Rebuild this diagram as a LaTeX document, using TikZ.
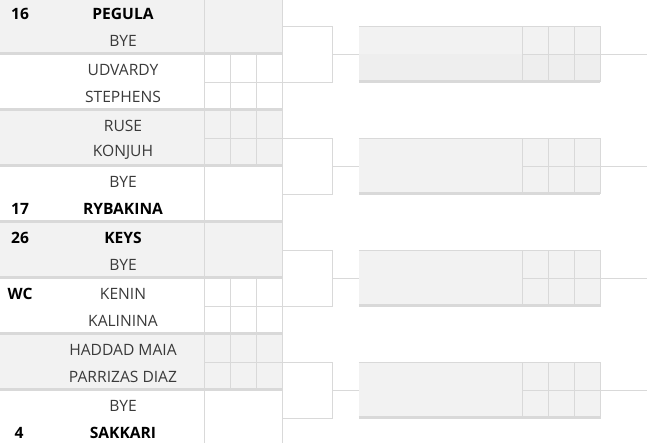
\documentclass[tikz,border=0pt]{standalone}
\usepackage{fontspec}
\setmainfont{Open Sans}
\usetikzlibrary{calc}
\definecolor{cellgray}{HTML}{F2F2F2}
\definecolor{cellgraydk}{HTML}{EEEEEE}
\definecolor{rulegray}{HTML}{D9D9D9}
\definecolor{namegray}{HTML}{3A3A3A}
\tikzset{
    cellrule/.style={draw=rulegray, line width=1pt},
    seprule/.style={draw=rulegray, line width=2.6pt},
    plain/.style={text=namegray, inner sep=0pt, font=\fontsize{15.6}{17}\selectfont},
    strong/.style={text=black, inner sep=0pt, font=\fontsize{15.6}{17}\selectfont\bfseries},
    slot/.style={fill=cellgray, inner sep=0pt, minimum width=241pt, minimum height=56pt},
}

\begin{document}
\begin{tikzpicture}[x=1pt,y=-1pt]
    \useasboundingbox (0,0) rectangle (647,443);

    % first round, shaded matches
    \fill[cellgray] (0,-2) rectangle (282,52);
    \fill[cellgray] (0,110) rectangle (282,164);
    \fill[cellgray] (0,222) rectangle (282,276);
    \fill[cellgray] (0,334) rectangle (282,388);

    % score cells
    \draw[cellrule] (204,-2) -- (204,443) (282,-2) -- (282,443);
    \draw[cellrule] (230,54) -- (230,166) (256,54) -- (256,166);
    \draw[cellrule] (230,278) -- (230,390) (256,278) -- (256,390);
    \draw[cellrule] (204,82.3) -- (282,82.3) (204,138.3) -- (282,138.3);
    \draw[cellrule] (204,306.3) -- (282,306.3) (204,362.3) -- (282,362.3);
    \foreach \y in {53.3,109.3,165.3,221.3,277.3,333.3,389.3}
        \draw[seprule] (0,\y) -- (282,\y);

    % players
    \node[strong] (s16) at (20,13.5) {16};
    \node[strong] (pegula) at (123,13.5) {PEGULA};
    \node[plain] (bye1) at (123,40.5) {BYE};
    \node[plain] (udvardy) at (123,69.5) {UDVARDY};
    \node[plain] (stephens) at (123,96.5) {STEPHENS};
    \node[plain] (ruse) at (123,125.5) {RUSE};
    \node[plain] (konjuh) at (123,152.5) {KONJUH};
    \node[plain] (bye2) at (123,181.5) {BYE};
    \node[strong] (s17) at (20,208.5) {17};
    \node[strong] (rybakina) at (123,208.5) {RYBAKINA};
    \node[strong] (s26) at (20,237.5) {26};
    \node[strong] (keys) at (123,237.5) {KEYS};
    \node[plain] (bye3) at (123,264.5) {BYE};
    \node[strong] (wc) at (20,293.5) {WC};
    \node[plain] (kenin) at (123,293.5) {KENIN};
    \node[plain] (kalinina) at (123,320.5) {KALININA};
    \node[plain] (haddad) at (123,349.5) {HADDAD MAIA};
    \node[plain] (parrizas) at (123,376.5) {PARRIZAS DIAZ};
    \node[plain] (bye4) at (123,405.5) {BYE};
    \node[strong] (s4) at (19,432.5) {4};
    \node[strong] (sakkari) at (123,432.5) {SAKKARI};

    % match outlets
    \coordinate (w1) at (282,26.3);
    \coordinate (w2) at (282,82.3);
    \coordinate (w3) at (282,138.3);
    \coordinate (w4) at (282,194.3);
    \coordinate (w5) at (282,250.3);
    \coordinate (w6) at (282,306.3);
    \coordinate (w7) at (282,362.3);
    \coordinate (w8) at (282,418.3);
    \coordinate (j1) at (332,54.3);
    \coordinate (j2) at (332,166.3);
    \coordinate (j3) at (332,278.3);
    \coordinate (j4) at (332,390.3);

    % second round
    \node[slot] (r1) at (479.5,54.3) {};
    \node[slot] (r2) at (479.5,166.3) {};
    \node[slot] (r3) at (479.5,278.3) {};
    \node[slot] (r4) at (479.5,390.3) {};
    \fill[cellgraydk] (r1.west) rectangle (r1.south east);
    \coordinate (o1) at (647,54.3);
    \coordinate (o2) at (647,166.3);
    \coordinate (o3) at (647,278.3);
    \coordinate (o4) at (647,390.3);

    \foreach \i in {1,...,4} {
        \draw[cellrule] (r\i.north west) -- (r\i.north east) -- (r\i.south east);
        \draw[cellrule] ($(r\i.north east)+(-78,0)$) -- ($(r\i.south east)+(-78,0)$);
        \draw[cellrule] ($(r\i.north east)+(-52,0)$) -- ($(r\i.south east)+(-52,0)$);
        \draw[cellrule] ($(r\i.north east)+(-26,0)$) -- ($(r\i.south east)+(-26,0)$);
        \draw[cellrule] ($(r\i.east)+(-78,0)$) -- (r\i.east);
        \draw[seprule] ($(r\i.south west)+(0,-1)$) -- ($(r\i.south east)+(0,-1)$);
        \draw[cellrule] (j\i) -- (r\i.west);
        \draw[cellrule] (r\i.east) -- (o\i);
    }

    % brackets
    \draw[cellrule] (w1) -| (j1) (w2) -| (j1);
    \draw[cellrule] (w3) -| (j2) (w4) -| (j2);
    \draw[cellrule] (w5) -| (j3) (w6) -| (j3);
    \draw[cellrule] (w7) -| (j4) (w8) -| (j4);
\end{tikzpicture}
\end{document}
